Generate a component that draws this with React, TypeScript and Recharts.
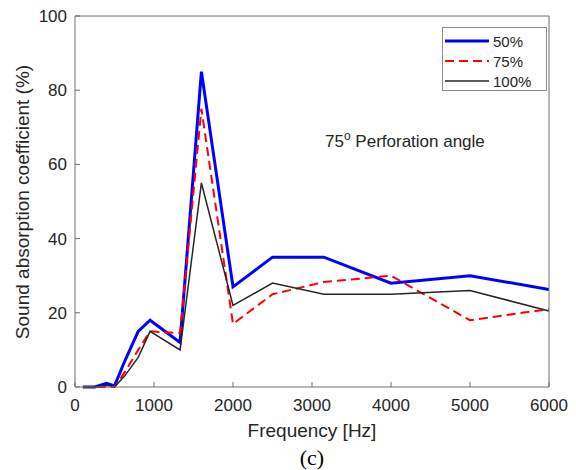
import React from "react";
import { LineChart, Line, XAxis, YAxis } from "recharts";

// Frequencies (Hz)
const frequencies = [100, 250, 400, 500, 630, 800, 950, 1330, 1600, 2000, 2500, 3150, 4000, 5000, 6000];
// Sound absorption coefficient (%) per perforation ratio
const series50 = [0, 0, 1, 0.3, 7, 15, 18, 12, 85, 27, 35, 35, 28, 30, 26.3];
const series75 = [0, 0, 0, 0, 4, 10, 15, 14.5, 75, 17, 25, 28.3, 30, 18, 21];
const series100 = [0, 0, 0.5, 0, 3, 8, 15, 10, 55, 22, 28, 25, 25, 26, 20.5];

const xTicks = [0, 1000, 2000, 3000, 4000, 5000, 6000];
const yTicks = [0, 20, 40, 60, 80, 100];

const seriesNames = ["50%", "75%", "100%"];
const seriesKeys = ["s50", "s75", "s100"];
const seriesColors = ["#0000ff", "#ff0000", "#262626"];
const seriesWidths = [3, 2, 1.5];
const seriesDashes = [undefined, "9 5", undefined];

const data = frequencies.map((f, i) => ({
  f,
  s50: series50[i],
  s75: series75[i],
  s100: series100[i],
}));

const TEXT = "#262626";
const AXIS = "#6e6e6e";
const FONT = "'Liberation Sans', Arial, sans-serif";

export default function App() {
  const tickStyle = { fontSize: 17, fill: TEXT, fontFamily: FONT };
  return (
    <div style={{ position: "absolute", left: 0, top: 0, width: 576, height: 470, background: "#fff" }}>
      <LineChart
        width={576}
        height={470}
        data={data}
        margin={{ top: 15, right: 26, bottom: 53, left: 15 }}
      >
        <XAxis
          dataKey="f"
          type="number"
          domain={[0, 6000]}
          ticks={xTicks}
          height={30}
          stroke={AXIS}
          tickSize={-5}
          tickMargin={17}
          tick={tickStyle}
          allowDataOverflow
        />
        <XAxis
          xAxisId="top"
          dataKey="f"
          type="number"
          orientation="top"
          domain={[0, 6000]}
          ticks={xTicks}
          height={1}
          stroke={AXIS}
          tickSize={-5}
          tick={false}
        />
        <YAxis
          type="number"
          domain={[0, 100]}
          ticks={yTicks}
          width={60}
          stroke={AXIS}
          tickSize={-5}
          tickMargin={13}
          tick={tickStyle}
        />
        <YAxis
          yAxisId="right"
          type="number"
          orientation="right"
          domain={[0, 100]}
          ticks={yTicks}
          width={1}
          stroke={AXIS}
          tickSize={-5}
          tick={false}
        />
        {seriesKeys.map((k, i) => (
          <Line
            key={k}
            type="linear"
            dataKey={k}
            name={seriesNames[i]}
            stroke={seriesColors[i]}
            strokeWidth={seriesWidths[i]}
            strokeDasharray={seriesDashes[i]}
            dot={false}
            activeDot={false}
            isAnimationActive={false}
          />
        ))}
      </LineChart>
      <svg
        width={576}
        height={470}
        style={{ position: "absolute", left: 0, top: 0, pointerEvents: "none" }}
      >
        <text
          x={22}
          y={202}
          transform="rotate(-90 22 202)"
          textAnchor="middle"
          dominantBaseline="central"
          fontSize={19}
          fontFamily={FONT}
          fill={TEXT}
        >
          Sound absorption coefficient (%)
        </text>
        <text x={312} y={437} textAnchor="middle" fontSize={19} fontFamily={FONT} fill={TEXT}>
          Frequency [Hz]
        </text>
        <text x={312} y={465} textAnchor="middle" fontSize={22} fontFamily="'Liberation Serif', 'Times New Roman', serif" fill="#000">
          (c)
        </text>
        <text x={325} y={147} fontSize={17} fontFamily={FONT} fill={TEXT}>
          75
          <tspan dy={-7} fontSize={12}>o</tspan>
          <tspan dy={7}> Perforation angle</tspan>
        </text>
        <g>
          <rect x={442.5} y={27.5} width={104} height={63} fill="#fff" stroke="#8c8c8c" strokeWidth={1} />
          {seriesNames.map((n, i) => (
            <g key={n}>
              <line
                x1={445}
                x2={489}
                y1={41 + i * 20}
                y2={41 + i * 20}
                stroke={seriesColors[i]}
                strokeWidth={seriesWidths[i]}
                strokeDasharray={seriesDashes[i]}
              />
              <text
                x={493}
                y={41 + i * 20}
                dominantBaseline="central"
                fontSize={15}
                fontFamily={FONT}
                fill={TEXT}
              >
                {n}
              </text>
            </g>
          ))}
        </g>
      </svg>
    </div>
  );
}
